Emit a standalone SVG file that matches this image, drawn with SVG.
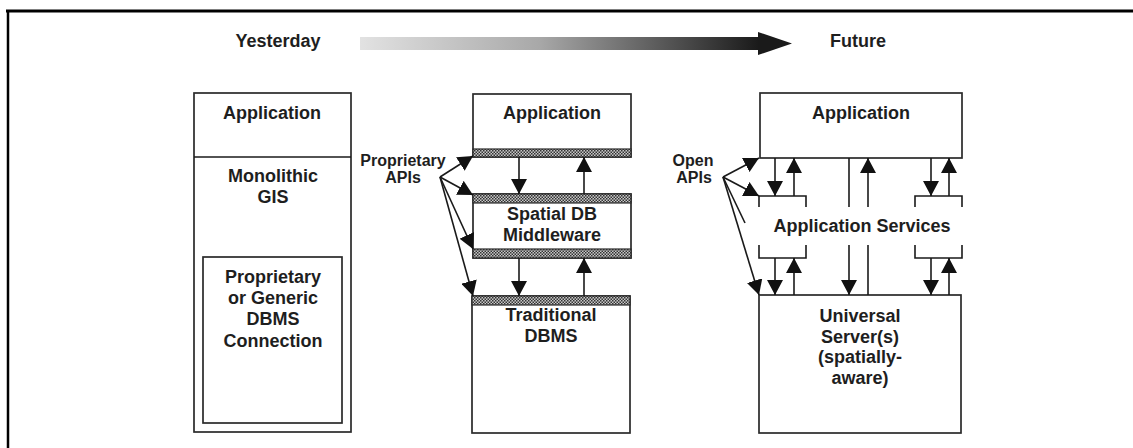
<svg xmlns="http://www.w3.org/2000/svg" width="1133" height="448" viewBox="0 0 1133 448">
<style>
  .box { fill: #fff; stroke: #2a2a2a; stroke-width: 1.7; }
  .ln { fill: none; stroke: #1a1a1a; stroke-width: 1.6; }
  .t { font-family: "Liberation Sans", Arial, Helvetica, sans-serif; font-weight: bold; font-size: 18px; fill: #1e1e1e; text-anchor: middle; }
  .s { font-size: 16px; }
  .band { fill: url(#hatch); stroke: #2a2a2a; stroke-width: 1.2; }
</style>
<defs>
  <linearGradient id="grad" x1="0" y1="0" x2="1" y2="0">
    <stop offset="0" stop-color="#e2e2e2"/>
    <stop offset="0.45" stop-color="#a8a8a8"/>
    <stop offset="1" stop-color="#1a1a1a"/>
  </linearGradient>
  <pattern id="hatch" width="3" height="3" patternUnits="userSpaceOnUse">
    <rect width="3" height="3" fill="#c8c8c8"/>
    <rect width="1.5" height="1.5" fill="#333"/>
    <rect x="1.5" y="1.5" width="1.5" height="1.5" fill="#333"/>
  </pattern>
  <marker id="ah" viewBox="0 0 15 16" refX="15" refY="8" markerWidth="15" markerHeight="16" markerUnits="userSpaceOnUse" orient="auto">
    <path d="M0,0 L15,8 L0,16 z" fill="#111"/>
  </marker>
</defs>

<!-- frame -->
<g id="frame">
  <line x1="6" y1="11" x2="1133" y2="11" stroke="#000" stroke-width="3"/>
  <line x1="8" y1="10" x2="8" y2="448" stroke="#000" stroke-width="2.5"/>
</g>

<!-- timeline -->
<g id="timeline">
  <text class="t" x="278" y="47">Yesterday</text>
  <rect x="360" y="37" width="399" height="13" fill="url(#grad)"/>
  <polygon points="758,32 792,43.5 758,55" fill="#1a1a1a"/>
  <text class="t" x="858" y="47">Future</text>
</g>

<!-- left column -->
<g id="monolithic">
  <rect class="box" x="194" y="93" width="157" height="339"/>
  <line class="ln" x1="194" y1="157" x2="351" y2="157"/>
  <text class="t" x="272" y="119">Application</text>
  <text class="t" x="273" y="182">Monolithic</text>
  <text class="t" x="273" y="203">GIS</text>
</g>
<g id="dbms-connection">
  <rect class="box" x="203" y="257" width="139" height="166"/>
  <text class="t" x="273" y="283">Proprietary</text>
  <text class="t" x="273" y="304">or Generic</text>
  <text class="t" x="273" y="325">DBMS</text>
  <text class="t" x="273" y="347">Connection</text>
</g>

<!-- middle column -->
<g id="mid-application">
  <rect class="box" x="473" y="94" width="158" height="63"/>
  <rect class="band" x="473" y="149" width="158" height="8"/>
  <text class="t" x="552" y="119">Application</text>
</g>
<g id="middleware">
  <rect class="box" x="473" y="194" width="158" height="64"/>
  <rect class="band" x="473" y="194" width="158" height="9"/>
  <rect class="band" x="473" y="249" width="158" height="9"/>
  <text class="t" x="552" y="220">Spatial DB</text>
  <text class="t" x="552" y="241">Middleware</text>
</g>
<g id="traditional-dbms">
  <rect class="box" x="472" y="296" width="158" height="137"/>
  <rect class="band" x="472" y="296" width="158" height="9"/>
  <text class="t" x="551" y="321">Traditional</text>
  <text class="t" x="551" y="342">DBMS</text>
</g>
<g id="proprietary-apis">
  <text class="t s" x="403" y="166">Proprietary</text>
  <text class="t s" x="403" y="183">APIs</text>
</g>

<!-- right column -->
<g id="right-application">
  <rect class="box" x="760" y="93" width="202" height="65"/>
  <text class="t" x="861" y="119">Application</text>
</g>
<g id="application-services">
  <path class="ln" d="M759,207 V196 H806 V207"/>
  <path class="ln" d="M915,207 V196 H962 V207"/>
  <path class="ln" d="M759,245 V258 H806 V245"/>
  <path class="ln" d="M915,245 V258 H962 V245"/>
  <text class="t" x="862" y="232">Application Services</text>
</g>
<g id="universal-server">
  <rect class="box" x="759" y="295" width="202" height="138"/>
  <text class="t" x="860" y="322">Universal</text>
  <text class="t" x="860" y="343">Server(s)</text>
  <text class="t" x="860" y="363">(spatially-</text>
  <text class="t" x="860" y="384">aware)</text>
</g>
<g id="open-apis">
  <text class="t s" x="693" y="166">Open</text>
  <text class="t s" x="694" y="183">APIs</text>
</g>

<!-- connectors -->
<g id="connectors">
  <!-- middle column -->
  <line class="ln" x1="519" y1="157" x2="519" y2="194" marker-end="url(#ah)"/>
  <line class="ln" x1="584" y1="194" x2="584" y2="157" marker-end="url(#ah)"/>
  <line class="ln" x1="519" y1="258" x2="519" y2="296" marker-end="url(#ah)"/>
  <line class="ln" x1="584" y1="296" x2="584" y2="258" marker-end="url(#ah)"/>
  <!-- proprietary API fan -->
  <line class="ln" x1="440" y1="177" x2="473" y2="156" marker-end="url(#ah)"/>
  <line class="ln" x1="440" y1="177" x2="473" y2="195" marker-end="url(#ah)"/>
  <line class="ln" x1="440" y1="177" x2="473" y2="249" marker-end="url(#ah)"/>
  <line class="ln" x1="440" y1="177" x2="473" y2="296" marker-end="url(#ah)"/>
  <!-- right column upper -->
  <line class="ln" x1="775" y1="158" x2="775" y2="196" marker-end="url(#ah)"/>
  <line class="ln" x1="794" y1="196" x2="794" y2="158" marker-end="url(#ah)"/>
  <line class="ln" x1="849" y1="158" x2="849" y2="207"/>
  <line class="ln" x1="868" y1="207" x2="868" y2="158" marker-end="url(#ah)"/>
  <line class="ln" x1="931" y1="158" x2="931" y2="196" marker-end="url(#ah)"/>
  <line class="ln" x1="949" y1="196" x2="949" y2="158" marker-end="url(#ah)"/>
  <!-- right column lower -->
  <line class="ln" x1="775" y1="258" x2="775" y2="295" marker-end="url(#ah)"/>
  <line class="ln" x1="794" y1="295" x2="794" y2="258" marker-end="url(#ah)"/>
  <line class="ln" x1="849" y1="245" x2="849" y2="295" marker-end="url(#ah)"/>
  <line class="ln" x1="868" y1="245" x2="868" y2="295"/>
  <line class="ln" x1="931" y1="258" x2="931" y2="295" marker-end="url(#ah)"/>
  <line class="ln" x1="949" y1="295" x2="949" y2="258" marker-end="url(#ah)"/>
  <!-- open API fan -->
  <line class="ln" x1="723" y1="177" x2="759" y2="158" marker-end="url(#ah)"/>
  <line class="ln" x1="723" y1="177" x2="759" y2="196" marker-end="url(#ah)"/>
  <line class="ln" x1="723" y1="177" x2="745" y2="223"/>
  <line class="ln" x1="723" y1="177" x2="759" y2="295" marker-end="url(#ah)"/>
</g>
</svg>
